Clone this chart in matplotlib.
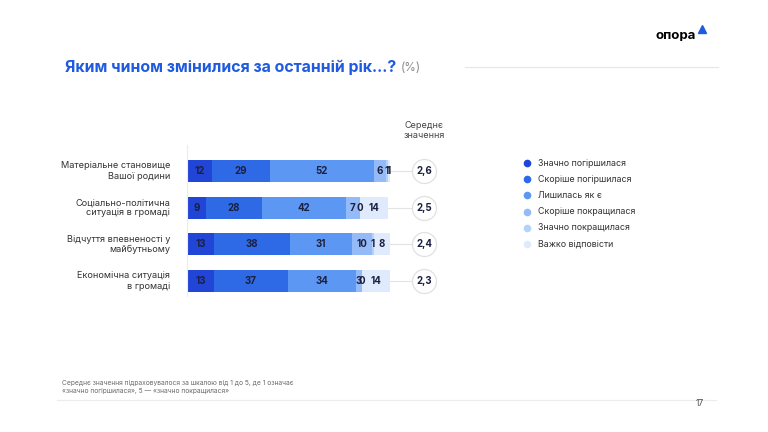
import matplotlib.pyplot as plt
import numpy as np

plt.rcParams['font.family'] = ['Inter', 'DejaVu Sans']

W, H = 768, 432

# --- data ---
categories = [
    'Матеріальне становище\nВашої родини',
    'Соціально-політична\nситуація в громаді',
    'Відчуття впевненості у\nмайбутньому',
    'Економічна ситуація\nв громаді',
]
answers = [
    'Значно погіршилася',
    'Скоріше погіршилася',
    'Лишилась як є',
    'Скоріше покращилася',
    'Значно покращилася',
    'Важко відповісти',
]
values = np.array([
    [12, 29, 52, 6, 1, 1],
    [9, 28, 42, 7, 0, 14],
    [13, 38, 31, 10, 1, 8],
    [13, 37, 34, 3, 0, 14],
])
means = ['2,6', '2,5', '2,4', '2,3']

colors = ['#2145d6', '#2f6ae6', '#5d97f4', '#94bbf7', '#b7d2fa', '#dfeafd']
BLUE = '#1f5ae0'
LABEL_C = '#1b2040'
GREY = '#6b6b6b'


def fx(px):
    return px / W


def fy(py):
    return 1 - py / H


fig = plt.figure(figsize=(W / 100, H / 100), dpi=100)

# title, logo
title = fig.text(fx(65), fy(67), 'Яким чином змінилися за останній рік...?', color=BLUE,
                 fontsize=11.4, fontweight='bold', va='center', ha='left')
fig.canvas.draw()
bb = title.get_window_extent()
fig.text(bb.x1 / W + fx(5), fy(68), '(%)', color='#8a8a8a', fontsize=8.5, va='center', ha='left')
fig.add_artist(plt.Line2D([fx(465), fx(718)], [fy(67), fy(67)], color='#e6e6e6', lw=0.8))
fig.text(fx(676), fy(36), 'опора', color='black', fontsize=9.5, fontweight='bold',
         va='center', ha='center')
fig.add_artist(plt.Line2D([fx(702)], [fy(29)], marker='^', color=BLUE, markersize=6))

# bars
ax = fig.add_axes([fx(188), fy(300), fx(280), (300 - 140) / H])
ax.set_xlim(0, 140)
ax.set_ylim(3.518, -0.845)
ax.axis('off')

y = np.arange(len(categories))
left = np.zeros(len(categories))
for j, name in enumerate(answers):
    ax.barh(y, values[:, j], left=left, height=0.6, color=colors[j], label=name)
    for i in range(len(categories)):
        ax.text(left[i] + values[i, j] / 2, y[i], str(values[i, j]), ha='center', va='center',
                fontsize=7, fontweight='bold', color=LABEL_C)
    left += values[:, j]

ax.plot([-0.3, -0.3], [-0.72, 3.42], color='#ececec', lw=0.8, clip_on=False)

CX = 118
for i in range(len(categories)):
    ax.plot([left[i], CX], [y[i], y[i]], color='#e3e3e3', lw=0.8, zorder=1)
ax.scatter([CX] * len(categories), y, s=300, facecolor='white', edgecolor='#e1e1e1',
           linewidth=0.9, zorder=3, clip_on=False)
for i in range(len(categories)):
    ax.text(CX, y[i], means[i], ha='center', va='center', fontsize=7, fontweight='bold',
            color=LABEL_C, zorder=4)
ax.text(CX, -0.85, 'Середнє\nзначення', ha='center', va='bottom', fontsize=6.5,
        color='#444444', linespacing=1.1)

for i, cat in enumerate(categories):
    ax.text(-9, y[i], cat, ha='right', va='center', fontsize=6.6, color='#333333',
            linespacing=1.15)

# legend
for k, name in enumerate(answers):
    yy = 163 + k * 16.2
    fig.add_artist(plt.Line2D([fx(527)], [fy(yy)], marker='o', markersize=5.5,
                              color=colors[k], markeredgewidth=0))
    fig.text(fx(538), fy(yy), name, fontsize=6.4, color='#333333', va='center', ha='left')

# footnote
fig.text(fx(62), fy(387), 'Середнє значення підраховувалося за шкалою від 1 до 5, де 1 означає\n'
         '«значно погіршилася», 5 — «значно покращилася»', fontsize=4.8, color=GREY,
         va='center', ha='left', linespacing=1.35)
fig.add_artist(plt.Line2D([fx(57), fx(716)], [fy(400), fy(400)], color='#ececec', lw=0.8))
fig.text(fx(700), fy(404), '17', fontsize=6, color='#444444', va='center', ha='center')

fig.savefig('out.png', dpi=100, facecolor='white')
